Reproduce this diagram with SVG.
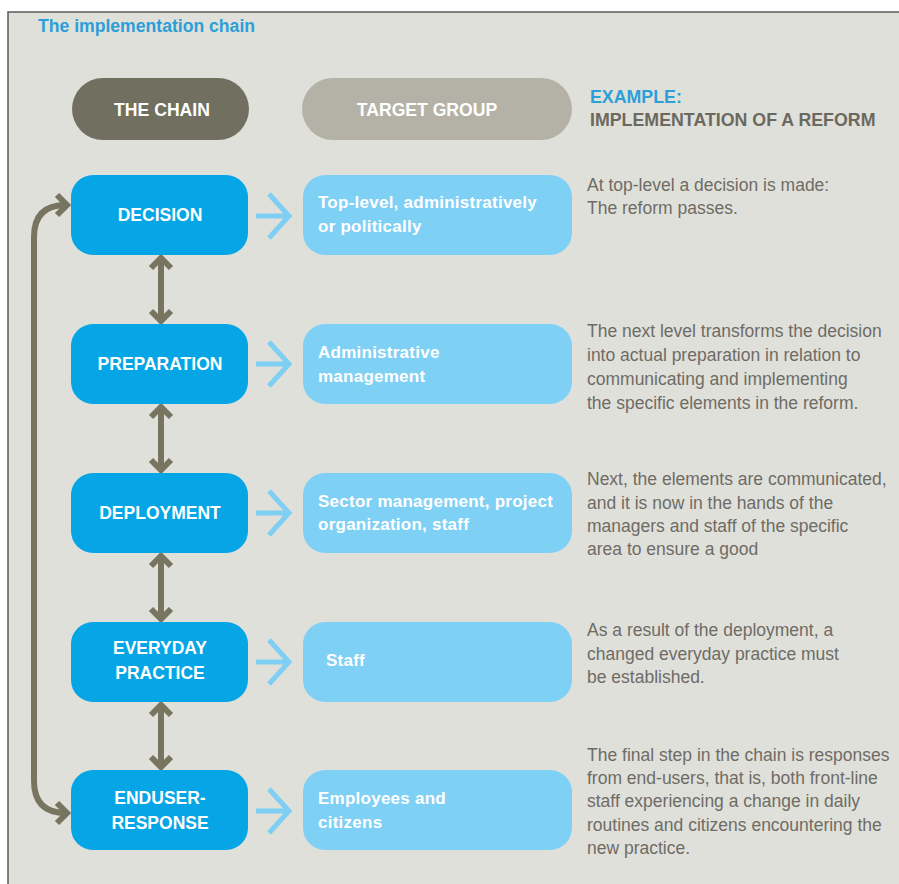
<svg xmlns="http://www.w3.org/2000/svg" width="899" height="884" viewBox="0 0 899 884">
<defs>
<style>
.bg{fill:#e0e0db}
.frame{fill:none;stroke:#5a5a58;stroke-width:1.5}
.chain rect{fill:#05a5e6}
.target rect{fill:#7fd0f5}
.lbl{font-family:"Liberation Sans",Arial,sans-serif;font-weight:bold;fill:#ffffff}
.chain .lbl{font-size:17.5px;text-anchor:middle}
.target .lbl{font-size:17px;letter-spacing:0.25px}
.desc{font-family:"Liberation Sans",Arial,sans-serif;font-size:17.5px;fill:#6e6c65}
.hdr{font-family:"Liberation Sans",Arial,sans-serif;font-weight:bold;font-size:17.8px}
.link{fill:none;stroke:#77745f;stroke-width:6}
.chev{fill:none;stroke:#7fcff4;stroke-width:5}
</style>
</defs>
<rect x="0" y="0" width="899" height="884" fill="#ffffff"/>
<rect class="bg" x="8" y="12" width="891" height="872"/>
<path class="frame" d="M8,884 V12 H899"/>
<text x="38" y="32" class="hdr" style="font-size:17.6px;fill:#2a9fd8">The implementation chain</text>

<g id="hdr-chain">
<rect x="72" y="78" width="177" height="62" rx="31" fill="#716f60"/>
<text x="162" y="116" class="lbl" style="font-size:17.6px;text-anchor:middle">THE CHAIN</text>
</g>
<g id="hdr-target">
<rect x="302" y="78" width="270" height="62" rx="31" fill="#b4b2a6"/>
<text x="427" y="116" class="lbl" style="font-size:17.6px;text-anchor:middle">TARGET GROUP</text>
</g>
<g id="hdr-example">
<text x="590" y="103" class="hdr" style="fill:#2a9fd8">EXAMPLE:</text>
<text x="590" y="126" class="hdr" style="fill:#6b695e">IMPLEMENTATION OF A REFORM</text>
</g>

<g id="connectors">
<path class="link" d="M66,205 Q34,205 34,237 V781 Q34,813 66,813"/>
<path class="link" d="M57,195 L67,205 L57,215 M57,803 L67,813 L57,823"/>
<path class="link" d="M161,258 V321 M151,268 L161,258 L171,268 M151,311 L161,321 L171,311"/>
<path class="link" d="M161,407 V470 M151,417 L161,407 L171,417 M151,460 L161,470 L171,460"/>
<path class="link" d="M161,556 V619 M151,566 L161,556 L171,566 M151,609 L161,619 L171,609"/>
<path class="link" d="M161,705 V767 M151,715 L161,705 L171,715 M151,757 L161,767 L171,757"/>
<path class="chev" d="M256,216 H288 M269,194 L289,216 L269,238"/>
<path class="chev" d="M256,364 H288 M269,342 L289,364 L269,386"/>
<path class="chev" d="M256,513 H288 M269,491 L289,513 L269,535"/>
<path class="chev" d="M256,662 H288 M269,640 L289,662 L269,684"/>
<path class="chev" d="M256,811 H288 M269,789 L289,811 L269,833"/>
</g>

<g id="decision" class="chain">
<rect x="71" y="175" width="177" height="80" rx="22"/>
<text x="160" y="221" class="lbl">DECISION</text>
</g>
<g id="preparation" class="chain">
<rect x="71" y="324" width="177" height="80" rx="22"/>
<text x="160" y="370" class="lbl">PREPARATION</text>
</g>
<g id="deployment" class="chain">
<rect x="71" y="473" width="177" height="80" rx="22"/>
<text x="160" y="519" class="lbl">DEPLOYMENT</text>
</g>
<g id="everyday" class="chain">
<rect x="71" y="622" width="177" height="80" rx="22"/>
<text x="160" y="654" class="lbl">EVERYDAY</text>
<text x="160" y="679" class="lbl">PRACTICE</text>
</g>
<g id="enduser" class="chain">
<rect x="71" y="770" width="177" height="80" rx="22"/>
<text x="160" y="804" class="lbl">ENDUSER-</text>
<text x="160" y="829" class="lbl">RESPONSE</text>
</g>

<g id="t-decision" class="target">
<rect x="303" y="175" width="269" height="80" rx="22"/>
<text x="318" y="208" class="lbl">Top-level, administratively</text>
<text x="318" y="232" class="lbl">or politically</text>
</g>
<g id="t-preparation" class="target">
<rect x="303" y="324" width="269" height="80" rx="22"/>
<text x="318" y="358" class="lbl">Administrative</text>
<text x="318" y="382" class="lbl">management</text>
</g>
<g id="t-deployment" class="target">
<rect x="303" y="473" width="269" height="80" rx="22"/>
<text x="318" y="507" class="lbl">Sector management, project</text>
<text x="318" y="530" class="lbl">organization, staff</text>
</g>
<g id="t-everyday" class="target">
<rect x="303" y="622" width="269" height="80" rx="22"/>
<text x="326" y="666" class="lbl">Staff</text>
</g>
<g id="t-enduser" class="target">
<rect x="303" y="770" width="269" height="80" rx="22"/>
<text x="318" y="804" class="lbl">Employees and</text>
<text x="318" y="828" class="lbl">citizens</text>
</g>

<g id="e-decision" class="desc">
<text x="587" y="191">At top-level a decision is made:</text>
<text x="587" y="214">The reform passes.</text>
</g>
<g id="e-preparation" class="desc">
<text x="587" y="337">The next level transforms the decision</text>
<text x="587" y="361">into actual preparation in relation to</text>
<text x="587" y="385">communicating and implementing</text>
<text x="587" y="409">the specific elements in the reform.</text>
</g>
<g id="e-deployment" class="desc">
<text x="587" y="485">Next, the elements are communicated,</text>
<text x="587" y="509">and it is now in the hands of the</text>
<text x="587" y="532">managers and staff of the specific</text>
<text x="587" y="555">area to ensure a good</text>
</g>
<g id="e-everyday" class="desc">
<text x="587" y="636">As a result of the deployment, a</text>
<text x="587" y="660">changed everyday practice must</text>
<text x="587" y="683">be established.</text>
</g>
<g id="e-enduser" class="desc">
<text x="587" y="761">The final step in the chain is responses</text>
<text x="587" y="784">from end-users, that is, both front-line</text>
<text x="587" y="807">staff experiencing a change in daily</text>
<text x="587" y="831">routines and citizens encountering the</text>
<text x="587" y="854">new practice.</text>
</g>
</svg>
